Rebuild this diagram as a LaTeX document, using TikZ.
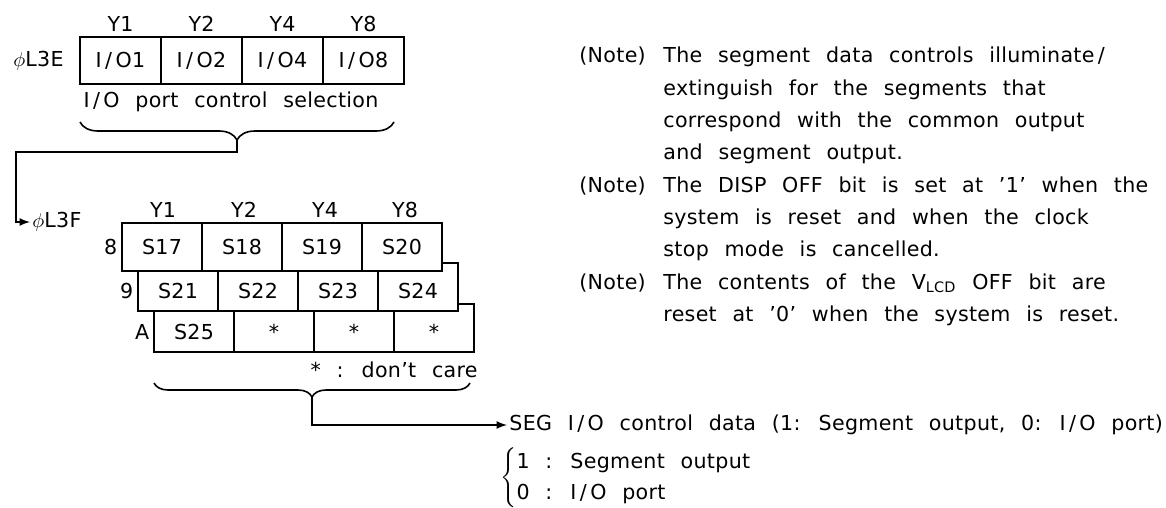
\documentclass[tikz,border=0pt]{standalone}
\usepackage{fontspec}
\setmainfont{DejaVu Sans}[WordSpace=2.3, LetterSpace=1.5]
\usetikzlibrary{decorations.pathreplacing}

\begin{document}
\begin{tikzpicture}[x=0.5pt, y=-0.5pt, >=latex, font=\fontsize{10.3}{13}\selectfont]

% --- Styles ---
\tikzset{
    topcell/.style={draw, fill=white, line width=1.4pt, minimum width=40.5pt, minimum height=23.5pt, inner sep=0pt},
    cell/.style={draw, fill=white, line width=1.4pt, minimum width=40pt, minimum height=24pt, inner sep=0pt},
    lowcell/.style={cell, text height=11.5pt, text depth=0pt},
    rowlabel/.style={anchor=east, inner sep=1.5pt},
    conn/.style={line width=0.8pt},
    brace/.style={decorate, decoration={brace, mirror, amplitude=9pt}, line width=0.8pt}
}

    \useasboundingbox (0,0) rectangle (1166,508);

    % Register L3E
    \node (ty1) at (120.5,24) {Y1};
    \node (ty2) at (201.5,24) {Y2};
    \node (ty4) at (282.5,24) {Y4};
    \node (ty8) at (363.5,24) {Y8};
    \node[anchor=east, inner sep=0pt] (l3e) at (64,60.5) {$\phi$L3E};
    \node[topcell] (io1) at (120.5,60.5) {I\,/\,O1};
    \node[topcell] (io2) at (201.5,60.5) {I\,/\,O2};
    \node[topcell] (io4) at (282.5,60.5) {I\,/\,O4};
    \node[topcell] (io8) at (363.5,60.5) {I\,/\,O8};
    \node (sel) at (231,102) {I\,/\,O port control selection};
    \draw[brace] (80,122) -- (394,122);
    \coordinate (tipA) at (237,140);

    % Register L3F
    \node[anchor=west, inner sep=1pt] (l3f) at (30,222) {$\phi$L3F};
    \node (by1) at (163,210) {Y1};
    \node (by2) at (244,210) {Y2};
    \node (by4) at (325,210) {Y4};
    \node (by8) at (405,210) {Y8};

    % Rij A (onderste laag eerst)
    \node[lowcell] (ca1) at (194,328) {S25};
    \node[lowcell] (ca2) at (274,328) {*};
    \node[lowcell] (ca3) at (354,328) {*};
    \node[lowcell] (ca4) at (434,328) {*};
    \node[rowlabel, yshift=-2pt] (ra) at (ca1.west) {A};

    % Rij 9
    \node[lowcell] (c91) at (178,287) {S21};
    \node[lowcell] (c92) at (258,287) {S22};
    \node[lowcell] (c93) at (338,287) {S23};
    \node[lowcell] (c94) at (418,287) {S24};
    \node[rowlabel, yshift=-2pt] (r9) at (c91.west) {9};

    % Rij 8
    \node[cell] (c81) at (162,247) {S17};
    \node[cell] (c82) at (242,247) {S18};
    \node[cell] (c83) at (322,247) {S19};
    \node[cell] (c84) at (402,247) {S20};
    \node[rowlabel] (r8) at (c81.west) {8};

    \node[anchor=east, inner sep=0pt] (dc) at (478,370) {* : don't care};
    \draw[brace, decoration={amplitude=7pt}] (154,383) -- (470,383);
    \coordinate (tipB) at (312,397);

    % Uitvoer
    \node[anchor=west, inner sep=1pt] (seg) at (507,425) {SEG I\,/\,O control data (1: Segment output, 0: I\,/\,O port)};
    \node[anchor=west, inner sep=0pt] (legend) at (500,478)
        {{\renewcommand\arraystretch{1.2}$\left\{\begin{tabular}{@{}l@{}}1 : Segment output\\0 : I\,/\,O port\end{tabular}\right.$}};

    % Verbindingen
    \draw[conn, ->] (tipA) |- (16,152) |- (l3f.west);
    \draw[conn, ->] (tipB) |- (seg.west);

    % Opmerkingen
    \node[anchor=base west, inner sep=0pt, font=\fontsize{10.3}{16.15}\selectfont] (notes) at (579,63) {%
        \begin{tabular}[t]{@{}p{42pt}@{}l@{}}
        (Note) & The segment data controls illuminate\,/\\
               & extinguish for the segments that\\
               & correspond with the common output\\
               & and segment output.\\
        (Note) & The DISP OFF bit is set at '1' when the\\
               & system is reset and when the clock\\
               & stop mode is cancelled.\\
        (Note) & The contents of the V\textsubscript{LCD} OFF bit are\\
               & reset at '0' when the system is reset.
        \end{tabular}};

\end{tikzpicture}
\end{document}
